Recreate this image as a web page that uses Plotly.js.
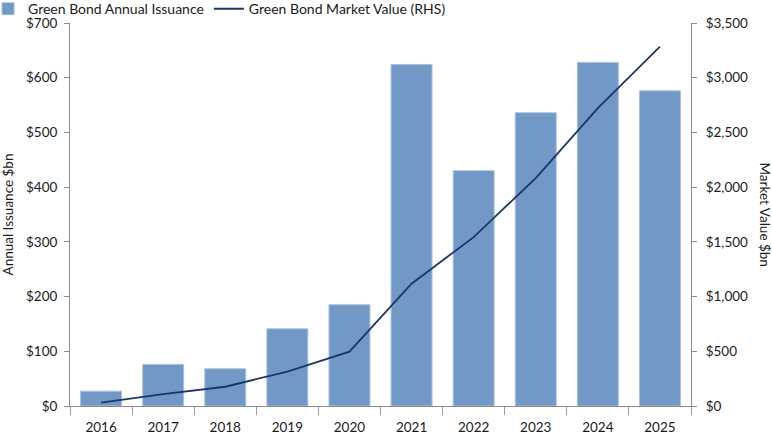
<!DOCTYPE html>
<html>
<head>
<meta charset="utf-8">
<script src="https://cdn.plot.ly/plotly-3.0.1.min.js"></script>
<style>
  html, body { margin: 0; padding: 0; background: #fff; }
  #chart { width: 772px; height: 436px; }
</style>
</head>
<body>
<div id="chart"></div>
<script>
var years = ['2016', '2017', '2018', '2019', '2020', '2021', '2022', '2023', '2024', '2025'];
var issuance = [27, 76, 68, 141, 185, 624, 430, 536, 628, 576];
var marketValue = [31, 108, 176, 315, 497, 1118, 1543, 2083, 2722, 3284];
var leftTicks = [0, 100, 200, 300, 400, 500, 600, 700];
var rightTicks = [0, 500, 1000, 1500, 2000, 2500, 3000, 3500];

function money(v) {
  return '$' + v.toLocaleString('en-US');
}

var font = 'Lato, "Open Sans", sans-serif';

var data = [{
  type: 'bar',
  name: 'Green Bond Annual Issuance',
  x: years,
  y: issuance,
  marker: {color: '#7198c6', line: {color: '#a9c1de', width: 1}},
  width: 0.66,
  hoverinfo: 'x+y'
}, {
  type: 'scatter',
  mode: 'lines',
  name: 'Green Bond Market Value (RHS)',
  x: years,
  y: marketValue,
  yaxis: 'y2',
  line: {color: '#1b3765', width: 1.8}
}];

var layout = {
  width: 772,
  height: 436,
  margin: {l: 70, r: 81, t: 23, b: 30, autoexpand: false},
  paper_bgcolor: '#fff',
  plot_bgcolor: '#fff',
  font: {family: font, size: 13.5, color: '#1a1a1a'},
  showlegend: true,
  legend: {
    orientation: 'h',
    x: -0.132, y: 1.078, xanchor: 'left', yanchor: 'top',
    font: {size: 14},
    itemwidth: 30,
    tracegroupgap: 0,
    bgcolor: 'rgba(0,0,0,0)'
  },
  xaxis: {
    type: 'category',
    automargin: false,
    showline: true, linecolor: '#8a8a8a', linewidth: 1,
    ticks: 'outside', tickson: 'boundaries', ticklen: 8, tickcolor: '#9a9a9a',
    ticklabelstandoff: 9,
    showgrid: false, zeroline: false,
    tickfont: {size: 13.5}
  },
  yaxis: {
    automargin: false,
    range: [0, 700],
    tickvals: leftTicks,
    ticktext: leftTicks.map(money),
    showline: true, linecolor: '#8a8a8a', linewidth: 1,
    ticks: 'outside', ticklen: 5, tickcolor: '#8a8a8a',
    ticklabelstandoff: 4,
    showgrid: false, zeroline: false,
    title: {text: 'Annual Issuance $bn', font: {size: 13.5}, standoff: 10}
  },
  yaxis2: {
    automargin: false,
    overlaying: 'y',
    side: 'right',
    range: [0, 3500],
    tickvals: rightTicks,
    ticktext: rightTicks.map(money),
    showline: true, linecolor: '#8a8a8a', linewidth: 1,
    ticks: 'outside', ticklen: 5, tickcolor: '#8a8a8a',
    ticklabelstandoff: 6,
    showgrid: false, zeroline: false
  },
  annotations: [{
    text: 'Market Value $bn',
    xref: 'paper', yref: 'paper',
    x: 1, y: 0.5,
    xanchor: 'center',
    xshift: 74,
    textangle: 90,
    showarrow: false,
    font: {size: 13.5}
  }]
};

Plotly.newPlot('chart', data, layout, {displayModeBar: false});
</script>
</body>
</html>
